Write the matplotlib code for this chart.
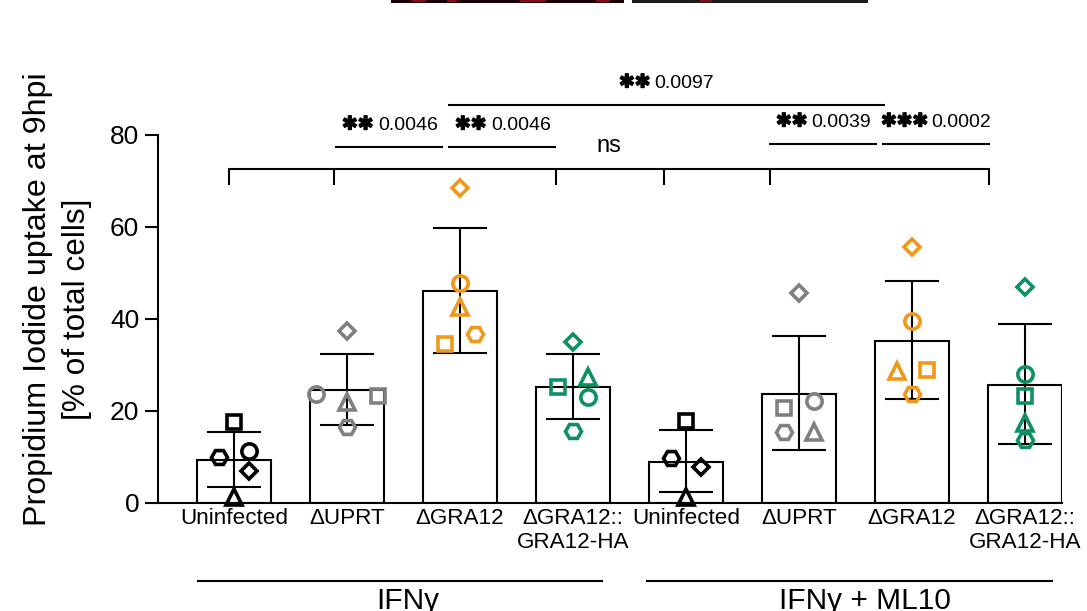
import matplotlib
matplotlib.use('Agg')
import matplotlib.pyplot as plt
import matplotlib.patheffects as pe
from matplotlib.patches import Rectangle
from matplotlib.transforms import Affine2D

plt.rcParams['font.family'] = ['Liberation Sans', 'DejaVu Sans']

W, H = 1087, 611

groups = ['Uninfected', '\u0394UPRT', '\u0394GRA12', '\u0394GRA12::\nGRA12-HA',
          'Uninfected', '\u0394UPRT', '\u0394GRA12', '\u0394GRA12::\nGRA12-HA']
means = [9.4, 24.6, 46.1, 25.2, 9.0, 23.8, 35.2, 25.7]
err_top = [15.5, 32.5, 59.8, 32.5, 15.9, 36.3, 48.3, 38.9]
err_bottom = [3.5, 17.0, 32.6, 18.3, 2.5, 11.5, 22.6, 12.8]

# replicate values, one list per marker shape (None = no point in that group)
squares = [17.6, 23.3, 34.6, 25.3, 17.8, 20.6, 28.9, 23.3]
circles = [11.3, 23.7, 47.8, 23.1, None, 22.2, 39.6, 28.0]
triangles = [1.3, 22.0, 42.7, 27.5, 1.4, 15.5, 28.7, 17.3]
diamonds = [7.0, 37.5, 68.5, 35.0, 7.8, 45.6, 55.7, 47.0]
hexagons = [10.0, 16.5, 36.7, 15.6, 9.8, 15.5, 23.7, 13.7]

# sideways spread of the points, in bar spacings
sq_dx = [0, 0.27, -0.13, -0.13, 0, -0.13, 0.13, 0]
ci_dx = [0.13, -0.27, 0, 0.13, 0, 0.13, 0, 0]
tr_dx = [0, 0, 0, 0.13, 0, 0.13, -0.13, 0]
di_dx = [0.13, 0, 0, 0, 0.13, 0, 0, 0]
he_dx = [-0.13, 0, 0.13, 0, -0.13, -0.13, 0, 0]

colors = ['black', '#808080', '#f0981a', '#0e9160'] * 2

fig = plt.figure(figsize=(W / 100, H / 100), dpi=100, facecolor='white')
# axes placed by pixels: x axis 158..1062, y 0 at 503, y 80 at 135
ax = fig.add_axes([158 / W, (H - 503) / H, (1062 - 158) / W, (503 - 135) / H])
xs = list(range(8))
ax.set_xlim((158 - 234) / 113, (1062 - 234) / 113)
ax.set_ylim(0, 80)

ax.bar(xs, means, width=74 / 113, facecolor='white', edgecolor='black', linewidth=1.5, zorder=1)
for i in xs:
    ax.errorbar(i, means[i], yerr=[[means[i] - err_bottom[i]], [err_top[i] - means[i]]],
                color='black', elinewidth=1.5, capsize=19.5, capthick=1.5, zorder=2)

shapes = [(squares, sq_dx, 's', 10.5), (circles, ci_dx, 'o', 11), (triangles, tr_dx, '^', 11),
          (diamonds, di_dx, 'D', 8.3), (hexagons, he_dx, 'H', 11.5)]
for vals, dx, mark, size in shapes:
    for i in xs:
        if vals[i] is None:
            continue
        ax.plot(i + dx[i], vals[i], mark, ms=size, mfc='none', mec=colors[i], mew=2.6,
                clip_on=False, zorder=3)

for s in ['top', 'right']:
    ax.spines[s].set_visible(False)
for s in ['left', 'bottom']:
    ax.spines[s].set_linewidth(1.5)

ax.set_yticks([0, 20, 40, 60, 80])
ax.tick_params(axis='y', length=9.5, width=1.5, labelsize=19, pad=4)
ax.set_xticks(xs)
ax.set_xticklabels(groups, fontsize=16.2, linespacing=1.2)
ax.tick_params(axis='x', length=0, pad=3.5)

# everything around the plot is placed in picture pixels, y down
px = Affine2D().scale(1, -1).translate(0, H)


def line(xa, ya, xb, yb, lw=1.5):
    fig.add_artist(plt.Line2D([xa, xb], [ya, yb], color='black', lw=lw, transform=px,
                              solid_capstyle='butt'))


def label(x, y, s, size, ha='left', **kw):
    fig.text(x, y, s, transform=px, fontsize=size, ha=ha, va='center', **kw)


def sig(x_star, x_p, y, stars, p):
    fig.text(x_star, y, '\u2731' * stars, transform=px, fontsize=13.5, ha='left', va='center',
             family='DejaVu Sans', weight='bold',
             path_effects=[pe.withStroke(linewidth=1.0, foreground='black')])
    label(x_p, y + 1.5, p, 14)


# bracket over all bars
line(228, 169, 990, 169)
for x in [229, 334, 556, 664, 770, 989]:
    line(x, 168, x, 185)
label(609, 146.5, 'ns', 17, ha='center')

line(335, 147, 443, 147)
line(448, 147, 556, 147)
line(769, 144, 877, 144)
line(882, 144, 990, 144)
line(448, 105, 885, 105)
sig(342, 378, 124, 2, '0.0046')
sig(455, 491, 124, 2, '0.0046')
sig(619, 654, 82, 2, '0.0097')
sig(776, 811, 121, 2, '0.0039')
sig(881, 931, 121, 3, '0.0002')

# treatment groups under the labels
line(197, 581, 603, 581)
line(646, 581, 1053, 581)
label(408, 601, 'IFN\u03b3', 21.5, ha='center')
label(865, 601, 'IFN\u03b3 + ML10', 21.5, ha='center')

# y axis title
label(38, 299, 'Propidium Iodide uptake at 9hpi', 23.2, ha='center', rotation=90)
label(77, 309, '[% of total cells]', 22.8, ha='center', rotation=90)

# edge of the micrograph panels above the chart
fig.add_artist(Rectangle((391, 0), 233, 2.5, transform=px, facecolor='#1a0004', edgecolor='none'))
fig.add_artist(Rectangle((632, 0), 236, 2.5, transform=px, facecolor='#1c1c1c', edgecolor='none'))
for x, w in [(412, 14), (447, 10), (520, 26), (596, 14), (700, 12)]:
    fig.add_artist(Rectangle((x, 0), w, 2, transform=px, facecolor='#8a0a14', edgecolor='none'))

fig.savefig('out.png', dpi=100)
